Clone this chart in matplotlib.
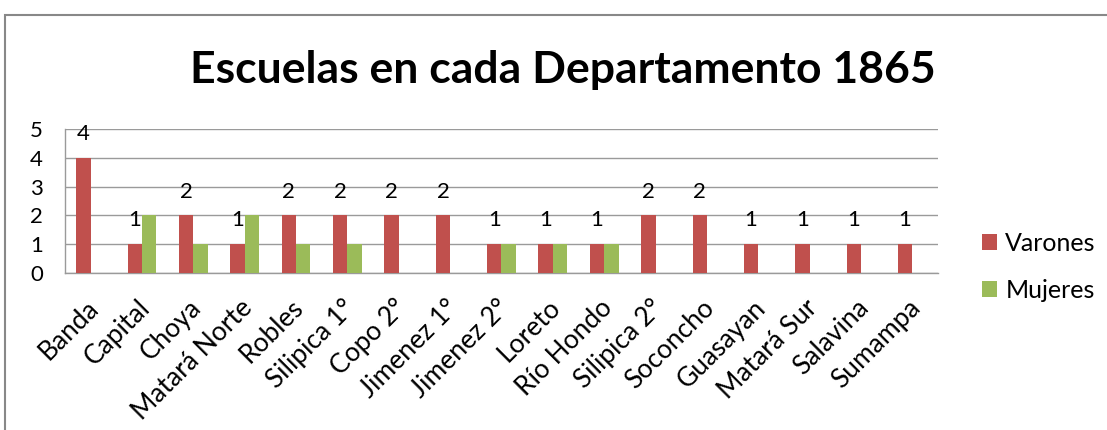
import matplotlib
matplotlib.use("Agg")
import matplotlib.pyplot as plt
import numpy as np
from matplotlib.patches import Rectangle
from matplotlib.transforms import ScaledTranslation

categories = ["Banda", "Capital", "Choya", "Matará Norte", "Robles", "Silipica 1°",
              "Copo 2°", "Jimenez 1°", "Jimenez 2°", "Loreto", "Río Hondo",
              "Silipica 2°", "Soconcho", "Guasayan", "Matará Sur", "Salavina", "Sumampa"]
varones = [4, 1, 2, 1, 2, 2, 2, 2, 1, 1, 1, 2, 2, 1, 1, 1, 1]
mujeres = [0, 2, 1, 2, 1, 1, 0, 0, 1, 1, 1, 0, 0, 0, 0, 0, 0]
yticks = [0, 1, 2, 3, 4, 5]

RED = "#C0504D"
GREEN = "#9BBB59"
FONT = "Lato"

fig = plt.figure(figsize=(11.07, 4.30), dpi=100)
W, H = 1107, 430

# outer chart frame
fig.patches.append(Rectangle((5 / W, -0.1), 1.2, 1 - 15 / H + 0.1, transform=fig.transFigure,
                             fill=False, edgecolor="#888888", linewidth=1.5))

ax = fig.add_axes([65 / W, 1 - 273 / H, (938 - 65) / W, (273 - 129) / H])
x = np.arange(len(categories))
bw = 0.28
ax.bar(x - bw / 2, varones, width=bw, color=RED, label="Varones", zorder=3)
ax.bar(x + bw / 2, mujeres, width=bw, color=GREEN, label="Mujeres", zorder=3)

for xi, v in zip(x, varones):
    ax.annotate(str(v), (xi - bw / 2, v), xytext=(0, 10), textcoords="offset points",
                ha="center", va="bottom", fontsize=16, family=FONT, color="black")

ax.set_xlim(-0.5, len(categories) - 0.5)
ax.set_ylim(0, 5)
ax.set_yticks(yticks)
ax.set_yticklabels([str(t) for t in yticks], fontsize=16, family=FONT)
ax.set_xticks(x)
ax.set_xticklabels(categories, rotation=45, ha="right", rotation_mode="anchor",
                   fontsize=19, family=FONT)
ax.tick_params(axis="x", length=0, pad=5)
ax.tick_params(axis="y", length=0, pad=16)
shift = ScaledTranslation(-5 / 100, -15 / 100, fig.dpi_scale_trans)
for lbl in ax.get_xticklabels():
    lbl.set_transform(lbl.get_transform() + shift)
ax.grid(axis="y", color="#9a9a9a", linewidth=1, zorder=0)
for s in ["top", "right"]:
    ax.spines[s].set_visible(False)
for s in ["left", "bottom"]:
    ax.spines[s].set_color("#9a9a9a")
    ax.spines[s].set_linewidth(1)

fig.text(563 / W, 1 - 70 / H, "Escuelas en cada Departamento 1865", ha="center", va="center",
         fontsize=32, fontweight="bold", family=FONT)

leg = fig.legend(loc="center left", bbox_to_anchor=(959 / W, 1 - 267 / H), frameon=False,
                 prop={"family": FONT, "size": 18}, handlelength=0.6, handleheight=0.6,
                 handletextpad=0.35, labelspacing=0.95)

fig.savefig("out.png", dpi=100)
